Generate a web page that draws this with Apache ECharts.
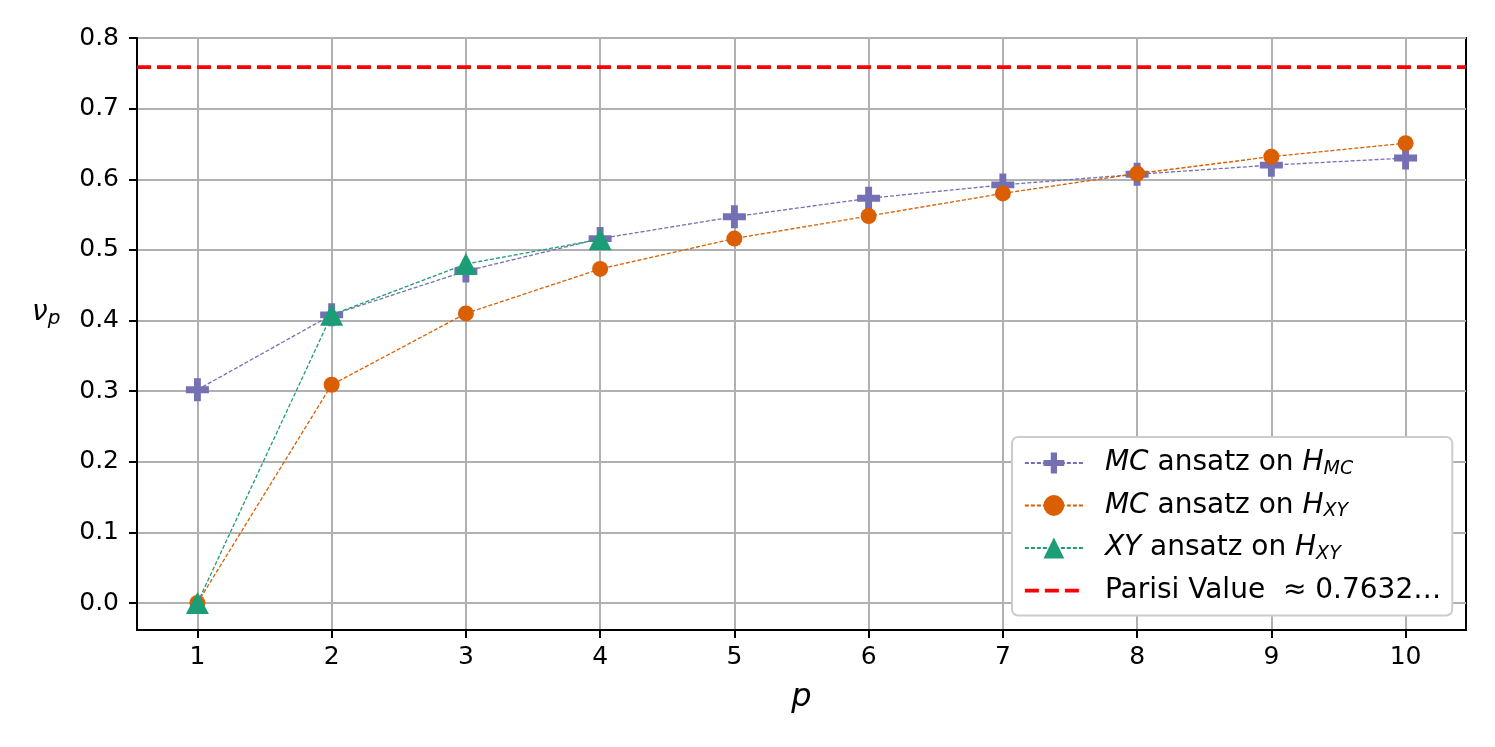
<!DOCTYPE html>
<html>
<head>
<meta charset="utf-8">
<script src="https://cdn.jsdelivr.net/npm/echarts@6/dist/echarts.min.js"></script>
<style>html,body{margin:0;padding:0;background:#fff}#c{width:1495px;height:747px}</style>
</head>
<body>
<div id="c"></div>
<script>
const pValues = [1, 2, 3, 4, 5, 6, 7, 8, 9, 10];
const mcOnHmc = [0.302, 0.408, 0.470, 0.516, 0.547, 0.573, 0.592, 0.607, 0.620, 0.630];
const mcOnHxy = [0.0, 0.309, 0.410, 0.473, 0.516, 0.548, 0.580, 0.608, 0.632, 0.651];
const xyOnHxy = [0.0, 0.408, 0.480, 0.515];
const parisiValue = 0.7632;
const yTicks = [0.0, 0.1, 0.2, 0.3, 0.4, 0.5, 0.6, 0.7, 0.8];
const xTicks = [1, 2, 3, 4, 5, 6, 7, 8, 9, 10];

const FONT = 'DejaVu Sans';
const plusPath = 'path://M-1.5,-5H1.5V-1.5H5V1.5H1.5V5H-1.5V1.5H-5V-1.5H-1.5Z';
const pairs = (xs, ys) => ys.map((v, i) => [xs[i], v]);

const chart = echarts.init(document.getElementById('c'), null, {renderer: 'canvas'});
chart.setOption({
  animation: false,
  backgroundColor: '#fff',
  grid: {left: 137, right: 29, top: 38, bottom: 117, show: true, borderColor: '#000', borderWidth: 2, backgroundColor: 'transparent'},
  graphic: [{
    type: 'text', left: 32, top: 299, z: 10,
    style: {
      text: '{n|ν}{s|p}',
      rich: {
        n: {fontFamily: FONT, fontSize: 28, fontStyle: 'italic', fill: '#000'},
        s: {fontFamily: FONT, fontSize: 20, fontStyle: 'italic', fill: '#000', padding: [12, 0, 0, 0]}
      }
    }
  }],
  xAxis: {
    type: 'value', min: 0.55, max: 10.45,
    name: 'p', nameLocation: 'middle', nameGap: 52,
    nameTextStyle: {fontFamily: FONT, fontSize: 32, fontStyle: 'italic', color: '#000'},
    axisLine: {show: true, onZero: false, lineStyle: {color: '#000', width: 2}},
    axisTick: {show: true, length: 8, inside: false, customValues: xTicks, lineStyle: {color: '#000', width: 2}},
    axisLabel: {customValues: xTicks, fontFamily: FONT, fontSize: 25, color: '#000', margin: 15},
    splitLine: {show: true, lineStyle: {color: '#b0b0b0', width: 2}}
  },
  yAxis: {
    type: 'value', min: -0.0382, max: 0.8,
    axisLine: {show: true, onZero: false, lineStyle: {color: '#000', width: 2}},
    axisTick: {show: true, length: 8, customValues: yTicks, lineStyle: {color: '#000', width: 2}},
    axisLabel: {customValues: yTicks, fontFamily: FONT, fontSize: 25, color: '#000', margin: 18, formatter: v => v.toFixed(1)},
    splitLine: {show: true, lineStyle: {color: '#b0b0b0', width: 2}}
  },
  legend: {
    orient: 'vertical', left: 1012, top: 437,
    backgroundColor: '#fff', borderColor: '#cccccc', borderWidth: 2, borderRadius: 6,
    padding: [12, 11, 11, 11], itemGap: 13, itemWidth: 58, itemHeight: 26,
    textStyle: {fontFamily: FONT, fontSize: 28, color: '#000', padding: [0, 0, 0, 17], rich: {
      i: {fontFamily: FONT, fontSize: 28, fontStyle: 'italic', color: '#000'},
      t: {fontFamily: FONT, fontSize: 28, color: '#000'},
      s: {fontFamily: FONT, fontSize: 19, fontStyle: 'italic', color: '#000', padding: [12, 0, 0, 0]}
    }},
    data: ['MC_MC', 'MC_XY', 'XY_XY', {name: 'Parisi', itemStyle: {opacity: 0}, lineStyle: {width: 3.75, type: [14, 6], color: '#ff0000'}}],
    formatter: function (name) {
      if (name === 'MC_MC') return '{i|MC}{t| ansatz on }{i|H}{s|MC}';
      if (name === 'MC_XY') return '{i|MC}{t| ansatz on }{i|H}{s|XY}';
      if (name === 'XY_XY') return '{i|XY}{t| ansatz on }{i|H}{s|XY}';
      return '{t|Parisi Value  ≈ 0.7632…}';
    }
  },
  series: [
    {
      name: 'Parisi', type: 'line', data: [], symbol: 'none',
      lineStyle: {color: '#ff0000', width: 3.75, type: [14, 6]},
      itemStyle: {color: '#ff0000'},
      markLine: {silent: true, symbol: 'none', label: {show: false},
        lineStyle: {color: '#ff0000', width: 3.75, type: [14, 6]},
        data: [{yAxis: parisiValue}]}
    },
    {
      name: 'MC_MC', type: 'line', data: pairs(pValues, mcOnHmc), z: 3,
      symbol: plusPath, symbolSize: 23,
      itemStyle: {color: '#7570b3'},
      lineStyle: {color: '#7570b3', width: 1.3, type: [4, 2]}
    },
    {
      name: 'MC_XY', type: 'line', data: pairs(pValues, mcOnHxy), z: 4,
      symbol: 'circle', symbolSize: 16,
      itemStyle: {color: '#d95f02'},
      lineStyle: {color: '#d95f02', width: 1.3, type: [4, 2]}
    },
    {
      name: 'XY_XY', type: 'line', data: pairs(pValues, xyOnHxy), z: 5,
      symbol: 'triangle', symbolSize: [23, 22],
      itemStyle: {color: '#1b9e77'},
      lineStyle: {color: '#1b9e77', width: 1.3, type: [4, 2]}
    }
  ]
});
</script>
</body>
</html>
